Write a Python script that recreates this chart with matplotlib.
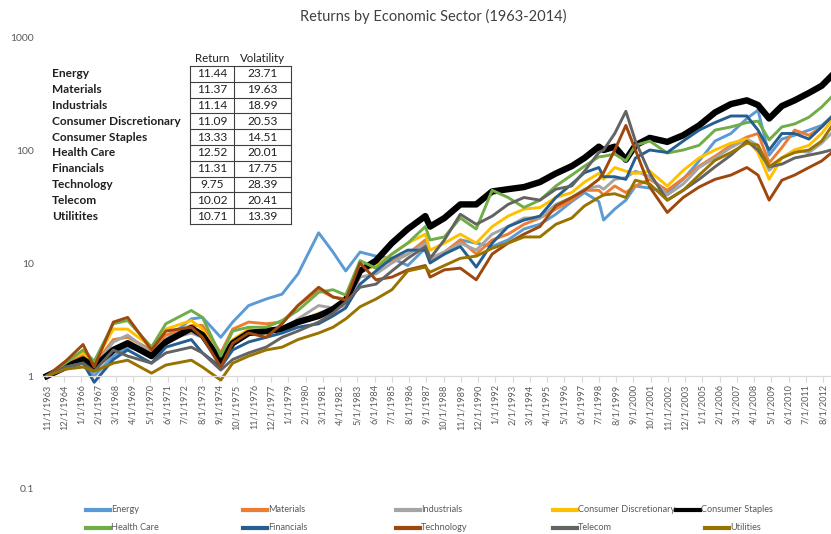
import matplotlib
matplotlib.use("Agg")
import matplotlib.pyplot as plt
from matplotlib.lines import Line2D
from matplotlib.ticker import NullLocator

plt.rcParams['font.family'] = ['Lato', 'DejaVu Sans']

# ---------------- data (decimal years, growth of $1) ----------------
dates = [1963.83, 1965.0, 1966.1, 1966.8, 1968.0, 1968.9, 1970.4, 1971.3, 1972.9, 1973.6,
         1974.75, 1975.5, 1976.5, 1977.6, 1978.6, 1979.6, 1980.9, 1981.8, 1982.6, 1983.5,
         1984.5, 1985.5, 1986.5, 1987.6, 1987.9, 1988.8, 1989.8, 1990.8, 1991.8, 1992.8,
         1993.8, 1994.8, 1995.8, 1996.8, 1997.6, 1998.5, 1998.8, 1999.5, 2000.2, 2000.8,
         2001.7, 2002.8, 2003.8, 2004.8, 2005.8, 2006.8, 2007.8, 2008.5, 2009.2, 2010.0,
         2010.8, 2011.7, 2012.5, 2013.1]

energy = [1.0, 1.15, 1.3, 1.0, 1.5, 1.8, 1.6, 2.1, 3.2, 3.3,
          2.2, 3.0, 4.2, 4.8, 5.3, 8.0, 18.5, 12.5, 8.5, 12.5,
          11.5, 11.0, 9.5, 13.5, 10.5, 12.0, 16.0, 15.0, 14.0, 16.0,
          20.0, 22.0, 27.0, 35.0, 42.0, 35.0, 24.0, 30.0, 36.0, 48.0,
          46.0, 42.0, 55.0, 80.0, 120.0, 140.0, 190.0, 225.0, 90.0, 125.0,
          135.0, 150.0, 165.0, 195.0]
materials = [1.0, 1.3, 1.55, 1.25, 2.1, 2.2, 1.7, 2.3, 2.8, 2.8,
             1.6, 2.6, 3.0, 2.9, 3.0, 4.2, 5.8, 5.0, 4.8, 8.5,
             9.5, 10.5, 12.0, 16.0, 10.5, 12.5, 16.0, 12.0, 16.0, 18.0,
             22.0, 25.0, 30.0, 36.0, 44.0, 44.0, 40.0, 48.0, 42.0, 48.0,
             55.0, 44.0, 56.0, 72.0, 88.0, 110.0, 130.0, 140.0, 77.0, 105.0,
             150.0, 135.0, 160.0, 195.0]
industrials = [1.0, 1.25, 1.45, 1.2, 2.0, 2.3, 1.6, 2.1, 2.4, 2.2,
               1.25, 2.0, 2.4, 2.4, 2.6, 3.2, 4.2, 4.0, 4.2, 7.5,
               8.0, 10.0, 12.0, 15.0, 11.0, 12.5, 15.0, 13.0, 18.0, 21.0,
               25.0, 25.0, 33.0, 38.0, 45.0, 48.0, 45.0, 55.0, 57.0, 65.0,
               58.0, 40.0, 50.0, 70.0, 85.0, 105.0, 125.0, 110.0, 66.0, 85.0,
               100.0, 95.0, 115.0, 140.0]
cons_disc = [1.0, 1.35, 1.6, 1.3, 2.6, 2.6, 1.8, 2.6, 3.1, 2.6,
             1.35, 2.1, 2.6, 2.4, 2.6, 3.0, 3.6, 3.8, 4.4, 8.5,
             9.5, 12.0, 15.0, 18.0, 13.0, 15.0, 18.0, 15.0, 21.0, 26.0,
             30.0, 31.0, 38.0, 42.0, 52.0, 62.0, 55.0, 70.0, 65.0, 62.0,
             65.0, 48.0, 66.0, 85.0, 100.0, 115.0, 125.0, 95.0, 55.0, 85.0,
             100.0, 110.0, 140.0, 180.0]
cons_staples = [1.0, 1.2, 1.4, 1.2, 1.7, 1.95, 1.5, 2.0, 2.65, 2.3,
                1.35, 1.95, 2.4, 2.5, 2.6, 3.0, 3.4, 3.9, 4.7, 8.5,
                10.5, 15.0, 20.0, 26.0, 21.0, 25.0, 33.0, 33.0, 43.0, 45.0,
                47.0, 52.0, 62.0, 72.0, 85.0, 107.0, 100.0, 107.0, 82.0, 110.0,
                128.0, 118.0, 135.0, 165.0, 215.0, 255.0, 275.0, 250.0, 190.0, 245.0,
                275.0, 320.0, 370.0, 450.0]
health_care = [1.0, 1.3, 1.7, 1.35, 2.9, 3.1, 1.8, 2.9, 3.8, 3.3,
               1.5, 2.5, 2.7, 2.7, 3.1, 3.8, 5.5, 5.8, 5.2, 10.5,
               9.0, 12.0, 15.0, 21.0, 16.0, 17.0, 25.0, 20.0, 44.0, 38.0,
               31.0, 36.0, 48.0, 60.0, 72.0, 87.0, 88.0, 92.0, 80.0, 110.0,
               120.0, 94.0, 100.0, 110.0, 150.0, 160.0, 175.0, 180.0, 123.0, 160.0,
               170.0, 195.0, 240.0, 293.0]
financials = [1.0, 1.2, 1.3, 0.88, 1.4, 1.7, 1.3, 1.8, 2.1, 1.6,
              1.2, 1.7, 2.0, 2.2, 2.4, 2.7, 2.9, 3.4, 4.0, 6.5,
              8.5, 11.0, 13.0, 13.0, 10.0, 12.0, 14.0, 9.2, 15.0, 21.0,
              24.0, 26.0, 38.0, 50.0, 63.0, 70.0, 58.0, 58.0, 55.0, 85.0,
              100.0, 95.0, 120.0, 150.0, 175.0, 200.0, 200.0, 150.0, 100.0, 140.0,
              140.0, 125.0, 160.0, 195.0]
technology = [1.0, 1.35, 1.9, 1.2, 3.0, 3.3, 1.7, 2.5, 2.7, 2.2,
              1.2, 1.95, 2.4, 2.2, 2.9, 4.2, 6.1, 5.0, 4.7, 10.0,
              7.1, 7.5, 8.7, 9.5, 7.5, 8.7, 9.0, 7.1, 12.0, 15.0,
              18.0, 21.0, 32.0, 38.0, 44.0, 55.0, 63.0, 100.0, 165.0, 100.0,
              47.0, 28.0, 38.0, 47.0, 55.0, 60.0, 70.0, 60.0, 36.0, 54.0,
              60.0, 70.0, 80.0, 94.0]
telecom = [1.0, 1.2, 1.3, 1.1, 1.7, 1.5, 1.3, 1.6, 1.8, 1.6,
           1.13, 1.4, 1.6, 1.8, 2.2, 2.5, 3.0, 3.6, 4.5, 6.1,
           6.5, 8.5, 11.0, 14.0, 11.0, 16.0, 27.0, 22.0, 26.0, 33.0,
           38.0, 36.0, 45.0, 48.0, 65.0, 95.0, 100.0, 140.0, 220.0, 120.0,
           62.0, 36.0, 44.0, 55.0, 71.0, 90.0, 120.0, 100.0, 71.0, 75.0,
           85.0, 90.0, 95.0, 100.0]
utilities = [1.0, 1.15, 1.2, 1.1, 1.3, 1.38, 1.06, 1.25, 1.38, 1.2,
             0.92, 1.3, 1.5, 1.7, 1.8, 2.1, 2.4, 2.7, 3.2, 4.1,
             4.8, 5.8, 8.5, 9.2, 8.3, 9.5, 11.0, 11.5, 13.5, 15.0,
             17.0, 17.0, 22.0, 25.0, 32.0, 38.0, 40.0, 41.0, 38.0, 54.0,
             50.0, 36.0, 44.0, 60.0, 81.0, 95.0, 115.0, 110.0, 71.0, 85.0,
             95.0, 100.0, 120.0, 160.0]

sectors = ["Energy", "Materials", "Industrials", "Consumer Discretionary", "Consumer Staples",
           "Health Care", "Financials", "Technology", "Telecom", "Utilities"]
series = [energy, materials, industrials, cons_disc, cons_staples,
          health_care, financials, technology, telecom, utilities]
colors = ["#5B9BD5", "#ED7D31", "#A5A5A5", "#FFC000", "#000000",
          "#70AD47", "#255E91", "#9E480E", "#636363", "#997300"]

table_names = ["Energy", "Materials", "Industrials", "Consumer Discretionary", "Consumer Staples",
               "Health Care", "Financials", "Technology", "Telecom", "Utilitites"]
table_return = ["11.44", "11.37", "11.14", "11.09", "13.33", "12.52", "11.31", "9.75", "10.02", "10.71"]
table_vol = ["23.71", "19.63", "18.99", "20.53", "14.51", "20.01", "17.75", "28.39", "20.41", "13.39"]

y_ticks = [0.1, 1, 10, 100, 1000]
y_tick_labels = ["0.1", "1", "10", "100", "1000"]

# ---------------- figure ----------------
W, H = 831, 534
fig = plt.figure(figsize=(W / 100, H / 100), dpi=100)


def fx(x):
    return x / W


def fy(y):
    return 1 - y / H


ax = fig.add_axes([fx(42), fy(489), 1 - fx(42), (489 - 37) / H])
ax.set_yscale("log")
ax.set_ylim(0.1, 1000)
x_right = 1963.0 + 10 / 12 + (831 - 47) / 15.918
ax.set_xlim(1963.52, x_right)

for name, vals, c in zip(sectors, series, colors):
    lw = 4.6 if name == "Consumer Staples" else 2.1
    ax.plot(dates, vals, color=c, lw=lw, solid_joinstyle="round", label=name)

# axis styling
for s in ["top", "right", "left"]:
    ax.spines[s].set_visible(False)
ax.spines["bottom"].set_position(("data", 1))
ax.spines["bottom"].set_color("#D9D9D9")
ax.spines["bottom"].set_linewidth(0.9)

ax.set_yticks(y_ticks)
ax.set_yticklabels(y_tick_labels)
ax.yaxis.set_minor_locator(NullLocator())
ax.tick_params(axis="y", length=0, pad=6, labelsize=7.5, labelcolor="#595959")

# x ticks every 13 months starting 11/1963
xt, xl = [], []
m = 1963 * 12 + 10
while True:
    yr, mo = m // 12, m % 12 + 1
    pos = yr + (mo - 1) / 12
    if pos > x_right:
        break
    xt.append(pos)
    xl.append(f"{mo}/1/{yr}")
    m += 13
ax.set_xticks(xt)
ax.set_xticklabels(xl, rotation=90)
ax.xaxis.set_minor_locator(NullLocator())
ax.tick_params(axis="x", length=4, width=0.8, color="#D9D9D9", pad=2,
               labelsize=6.6, labelcolor="#595959")

# title
fig.text(fx(433), fy(16), "Returns by Economic Sector (1963-2014)", ha="center", va="center",
         fontsize=10.5, color="#404040")

# ---------------- table ----------------
top, bot = 66, 224
rh = (bot - top) / len(table_names)
xl0, xm, xr = 190, 234, 291
lc = "#404040"
for yv in [top + i * rh for i in range(len(table_names) + 1)]:
    fig.add_artist(Line2D([fx(xl0), fx(xr)], [fy(yv), fy(yv)], color=lc, lw=0.8,
                          transform=fig.transFigure))
for xv in [xl0, xm, xr]:
    fig.add_artist(Line2D([fx(xv), fx(xv)], [fy(top), fy(bot)], color=lc, lw=0.8,
                          transform=fig.transFigure))
fig.text(fx(212), fy(58), "Return", ha="center", va="center", fontsize=8.3, color="#202020")
fig.text(fx(262.5), fy(58), "Volatility", ha="center", va="center", fontsize=8.3, color="#202020")
for i, (n, r, v) in enumerate(zip(table_names, table_return, table_vol)):
    yc = top + rh * (i + 0.5)
    fig.text(fx(52), fy(yc), n, ha="left", va="center", fontsize=8.6, fontweight="bold",
             color="#202020")
    fig.text(fx(212), fy(yc), r, ha="center", va="center", fontsize=8.6, color="#202020")
    fig.text(fx(262.5), fy(yc), v, ha="center", va="center", fontsize=8.6, color="#202020")

# ---------------- legend ----------------
leg_pos = [(86, 510), (243, 510), (396, 510), (553, 510), (676, 510),
           (86, 528), (243, 528), (396, 528), (553, 528), (705, 528)]
for (lx, ly), name, c in zip(leg_pos, sectors, colors):
    lw = 3.0
    fig.add_artist(Line2D([fx(lx), fx(lx + 24)], [fy(ly), fy(ly)], color=c, lw=lw,
                          transform=fig.transFigure))
    fig.text(fx(lx + 25), fy(ly), name, ha="left", va="center", fontsize=6.6, color="#595959")

fig.savefig("out.png", dpi=100)
